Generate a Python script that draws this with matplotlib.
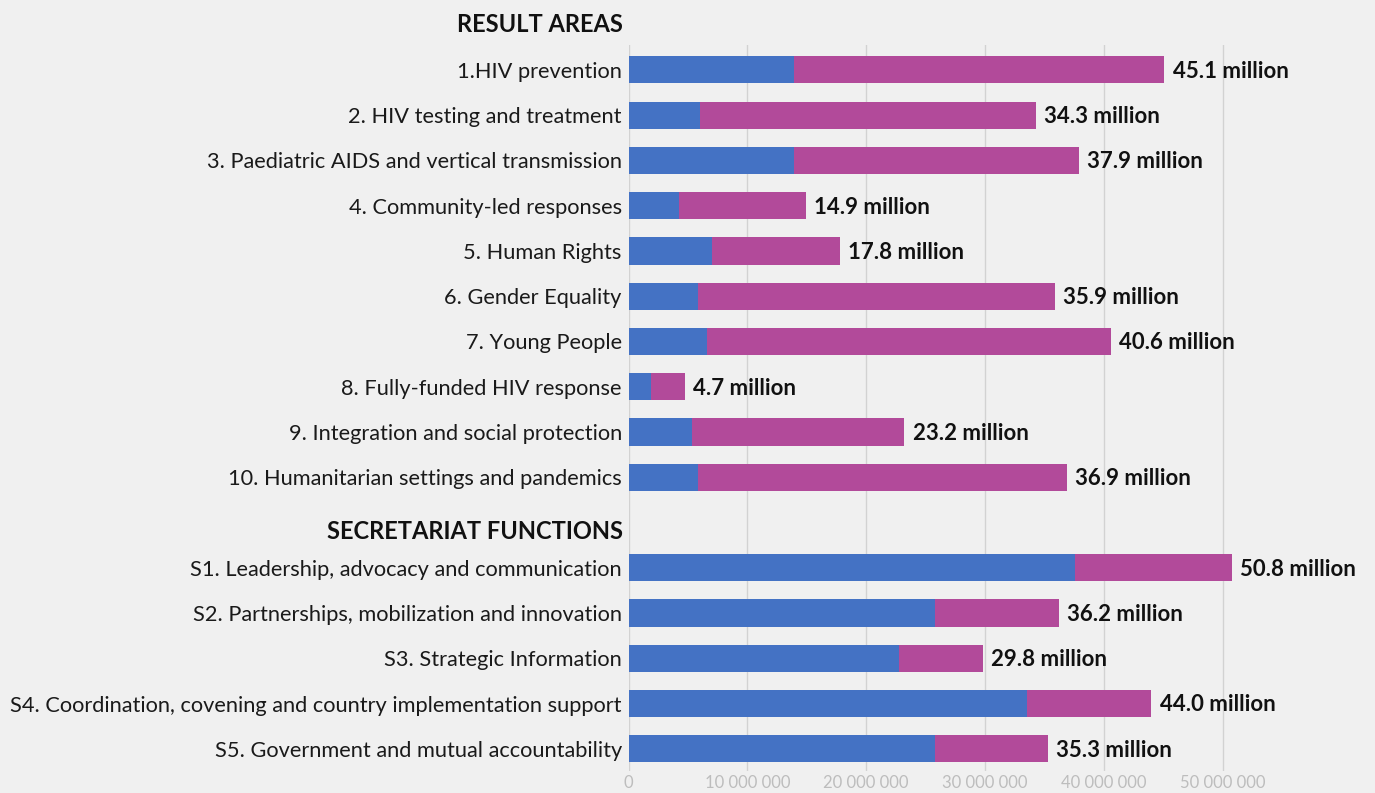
import matplotlib
matplotlib.use("Agg")
import matplotlib.pyplot as plt
from matplotlib.ticker import FuncFormatter

# values in millions
result_labels = [
    "1.HIV prevention",
    "2. HIV testing and treatment",
    "3. Paediatric AIDS and vertical transmission",
    "4. Community-led responses",
    "5. Human Rights",
    "6. Gender Equality",
    "7. Young People",
    "8. Fully-funded HIV response",
    "9. Integration and social protection",
    "10. Humanitarian settings and pandemics",
]
result_blue = [13.9, 6.0, 13.9, 4.2, 7.0, 5.8, 6.6, 1.9, 5.3, 5.8]
result_total = [45.1, 34.3, 37.9, 14.9, 17.8, 35.9, 40.6, 4.7, 23.2, 36.9]

secretariat_labels = [
    "S1. Leadership, advocacy and communication",
    "S2. Partnerships, mobilization and innovation",
    "S3. Strategic Information",
    "S4. Coordination, covening and country implementation support",
    "S5. Government and mutual accountability",
]
secretariat_blue = [37.6, 25.8, 22.8, 33.5, 25.8]
secretariat_total = [50.8, 36.2, 29.8, 44.0, 35.3]

headers = ["RESULT AREAS", "SECRETARIAT FUNCTIONS"]

BLUE = "#4472C4"
MAGENTA = "#B24A9A"
BG = "#F0F0F0"

plt.rcParams['font.family'] = ['Lato', 'DejaVu Sans']

fig = plt.figure(figsize=(13.75, 7.93), dpi=100, facecolor=BG)
ax = fig.add_axes([628.7 / 1375, 22 / 793, 746.3 / 1375, 726 / 793])
ax.set_facecolor(BG)

# slot 0 and 11 hold the section headers
labels = result_labels + secretariat_labels
blue = result_blue + secretariat_blue
total = result_total + secretariat_total
pos = list(range(1, 11)) + list(range(12, 17))
rest = [t - b for t, b in zip(total, blue)]

ax.barh(pos, blue, height=0.6, color=BLUE, zorder=3)
ax.barh(pos, rest, left=blue, height=0.6, color=MAGENTA, zorder=3)

for p, t in zip(pos, total):
    ax.annotate(f"{t:.1f} million", xy=(t, p), xytext=(6, -1), textcoords="offset points",
                va="center", ha="left", fontsize=16, fontweight="bold", color="#111111")

ax.set_yticks(pos)
ax.set_yticklabels(labels, fontsize=15.7, color="#1a1a1a")
ax.set_ylim(16.49, 0.45)
ax.set_xlim(0, 62.84)
ax.set_xticks([0, 10, 20, 30, 40, 50])
ax.xaxis.set_major_formatter(FuncFormatter(lambda v, _: f"{int(v * 1e6):,}".replace(",", " ")))
ax.tick_params(axis="y", length=0, pad=5)
ax.tick_params(axis="x", length=0, pad=3, labelsize=12, labelcolor="#bdbdbd")
ax.grid(axis="x", color="#d2d2d2", linewidth=1, zorder=0)
for s in ax.spines.values():
    s.set_visible(False)

for h, slot in zip(headers, [0, 11.2]):
    ax.text(-0.008, slot, h, transform=ax.get_yaxis_transform(), ha="right", va="center",
            fontsize=17, fontweight="bold", color="#111111", clip_on=False)

fig.savefig("out.png", dpi=100, facecolor=BG)
